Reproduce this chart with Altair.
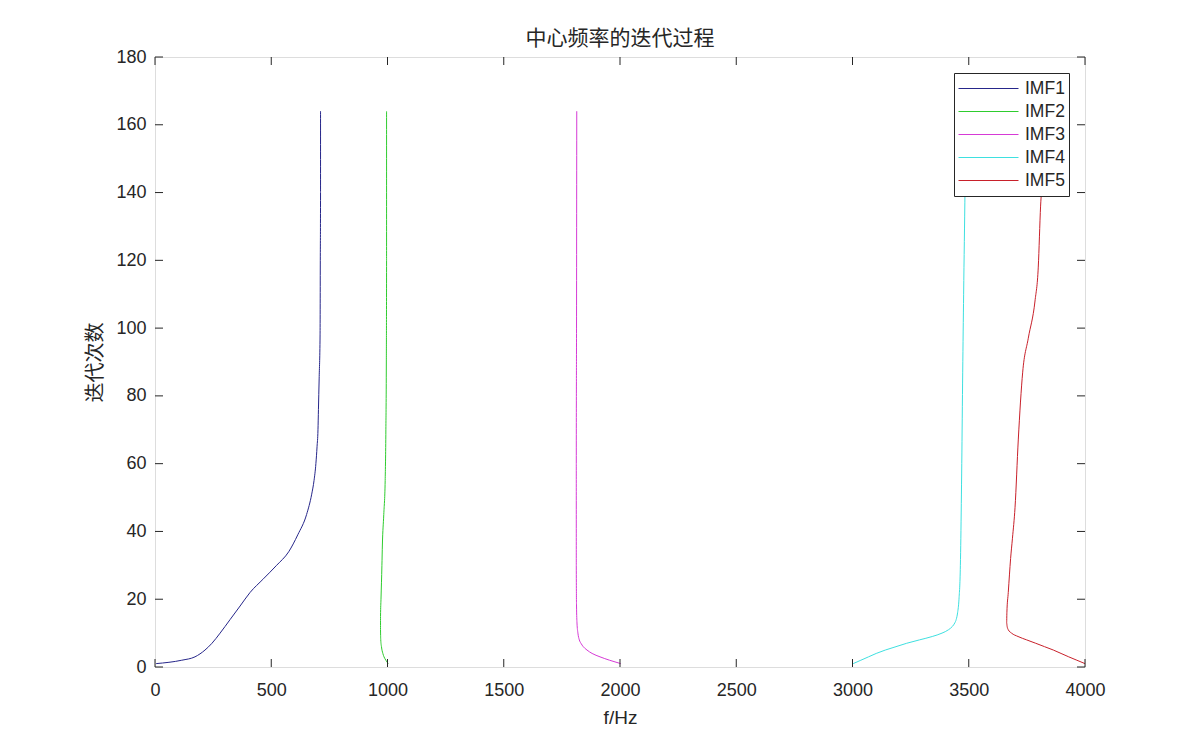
import altair as alt
import pandas as pd

# ---- data ----
series_names = ["IMF1", "IMF2", "IMF3", "IMF4", "IMF5"]
series_colors = ["#26268a", "#2ecc2e", "#d63ad6", "#3ee0e0", "#c8202a"]

imf1_iter = [1, 2, 3, 5, 7, 10, 14, 18, 22, 26, 30, 34, 39, 45, 51, 55, 60, 65, 70, 76, 85, 98, 120, 140, 164]
imf1_freq = [5, 115, 172, 215, 245, 280, 323, 366, 409, 466, 523, 575, 614, 652, 674, 684, 692, 697, 701, 703, 706, 710, 711, 712, 712]

imf2_iter = [1, 2, 3, 4, 6, 8, 11, 15, 20, 30, 36, 45, 55, 70, 90, 120, 164]
imf2_freq = [1003, 993, 985, 980, 974, 971, 970, 970, 972, 976, 978, 984, 990, 993, 995, 996, 996]

imf3_iter = [1, 2, 3, 4, 5, 6, 7, 8, 10, 13, 18, 30, 60, 100, 164]
imf3_freq = [2003, 1955, 1914, 1880, 1858, 1842, 1832, 1825, 1819, 1815, 1813, 1812, 1812, 1813, 1814]

imf4_iter = [1, 2, 3, 4, 5, 6, 7, 8, 9, 10, 11, 12, 13, 14, 16, 20, 30, 38, 60, 87, 110, 141, 164]
imf4_freq = [3003, 3036, 3069, 3102, 3141, 3187, 3233, 3288, 3343, 3385, 3413, 3430, 3440, 3446, 3452, 3458, 3464, 3466, 3470, 3474, 3478, 3484, 3488]

imf5_iter = [1, 2, 3, 4, 5, 6, 7, 8, 9, 10, 11, 12, 13, 16, 22, 32, 38, 47, 67, 87, 97, 108, 118, 136, 141, 164]
imf5_freq = [4000, 3965, 3930, 3897, 3864, 3826, 3788, 3749, 3712, 3684, 3670, 3665, 3663, 3664, 3670, 3680, 3688, 3699, 3713, 3732, 3756, 3785, 3799, 3809, 3813, 3822]

x_ticks = [0, 500, 1000, 1500, 2000, 2500, 3000, 3500, 4000]
y_ticks = [0, 20, 40, 60, 80, 100, 120, 140, 160, 180]

title_text = "中心频率的迭代过程"
x_title = "f/Hz"
y_title = "迭代次数"

# ---- build table ----
rows = []
for name, its, fs in zip(series_names,
                         [imf1_iter, imf2_iter, imf3_iter, imf4_iter, imf5_iter],
                         [imf1_freq, imf2_freq, imf3_freq, imf4_freq, imf5_freq]):
    for i, f in zip(its, fs):
        rows.append({"series": name, "iter": i, "freq": f})
df = pd.DataFrame(rows)

W, H = 930, 610
TXT = "#262626"
LATIN = "Liberation Sans"
CJK = "Noto Sans CJK SC"

xscale = alt.Scale(domain=[0, 4000], nice=False, zero=False)
yscale = alt.Scale(domain=[0, 180], nice=False, zero=False)

xaxis = alt.Axis(values=x_ticks, format="d", labelFlush=False, ticks=False, tickSize=0,
                 grid=False, domain=False,
                 labelFont=LATIN, labelFontSize=18, labelColor=TXT, labelPadding=14,
                 title=x_title, titleFont=LATIN, titleFontSize=19, titleFontWeight="normal",
                 titleColor=TXT, titleX=W / 2, titleY=50, titleBaseline="middle")
yaxis = alt.Axis(values=y_ticks, format="d", labelFlush=False, ticks=False, tickSize=0,
                 grid=False, domain=False,
                 labelFont=LATIN, labelFontSize=18, labelColor=TXT, labelPadding=9,
                 title=y_title, titleFont=CJK, titleFontSize=20, titleFontWeight="normal",
                 titleColor=TXT, titleX=-60, titleY=H / 2, titleBaseline="middle")

lines = alt.Chart(df).mark_line(strokeWidth=1, clip=True, orient="horizontal",
                                interpolate="monotone").encode(
    x=alt.X("freq:Q", scale=xscale, axis=xaxis),
    y=alt.Y("iter:Q", scale=yscale, axis=yaxis),
    color=alt.Color("series:N",
                    scale=alt.Scale(domain=series_names, range=series_colors),
                    legend=alt.Legend(title=None, orient="top-right", offset=16,
                                      strokeColor=TXT, fillColor="white", padding=4,
                                      symbolType="stroke", symbolSize=3600,
                                      symbolStrokeWidth=1, symbolOffset=0,
                                      labelFont=LATIN, labelFontSize=17.5, labelColor=TXT,
                                      labelOffset=6, clipHeight=23, rowPadding=0)),
    order="iter:Q",
)

xt = pd.DataFrame({"v": x_ticks})
yt = pd.DataFrame({"v": y_ticks})
TL = 8

bottom_ticks = alt.Chart(xt).mark_rule(color=TXT, strokeWidth=1).encode(
    x=alt.X("v:Q", scale=xscale), y=alt.value(H), y2=alt.value(H - TL))
top_ticks = alt.Chart(xt).mark_rule(color=TXT, strokeWidth=1).encode(
    x=alt.X("v:Q", scale=xscale), y=alt.value(0), y2=alt.value(TL))
left_ticks = alt.Chart(yt).mark_rule(color=TXT, strokeWidth=1).encode(
    y=alt.Y("v:Q", scale=yscale), x=alt.value(0), x2=alt.value(TL))
right_ticks = alt.Chart(yt).mark_rule(color=TXT, strokeWidth=1).encode(
    y=alt.Y("v:Q", scale=yscale), x=alt.value(W), x2=alt.value(W - TL))

chart = alt.layer(lines, bottom_ticks, top_ticks, left_ticks, right_ticks).properties(
    width=W, height=H,
    title=alt.TitleParams(title_text, font=CJK, fontSize=21, fontWeight="normal",
                          color=TXT, anchor="middle", baseline="bottom", offset=7, dy=29),
    autosize=alt.AutoSizeParams(type="none"),
    padding={"left": 147, "top": 49, "right": 107, "bottom": 75},
).configure_view(stroke=TXT, strokeWidth=1).configure(background="white")

chart.save("out.html", embed_options={"renderer": "svg", "actions": False})
